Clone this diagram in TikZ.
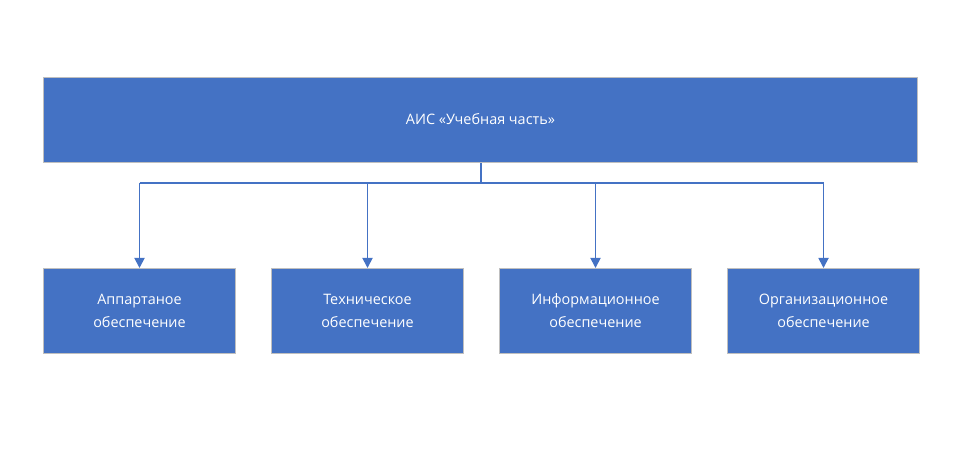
\documentclass[tikz,border=0pt]{standalone}
\usepackage{fontspec}
\setmainfont{Open Sans}
\usetikzlibrary{arrows.meta}
\definecolor{boxblue}{HTML}{4472C4}
\definecolor{boxedge}{HTML}{BFBFBF}
\begin{document}
\begin{tikzpicture}[x=1pt,y=-1pt,
  blk/.style={draw=boxedge,line width=1pt,fill=boxblue,text=white,inner sep=0pt,anchor=north west,
     align=center,font=\fontsize{14.4}{23}\selectfont},
  conn/.style={draw=boxblue,line width=1.8pt},
  arr/.style={conn,-{Triangle[length=10pt,width=10pt]}}]
\useasboundingbox (0,0) rectangle (972,454);
\node[blk,minimum width=874pt,minimum height=85pt] (top) at (43,77) {\raisebox{1.5pt}{АИС «Учебная часть»}};
\node[blk,minimum width=192pt,minimum height=85pt] (b1) at (43,268) {Аппартаное\\обеспечение};
\node[blk,minimum width=192pt,minimum height=85pt] (b2) at (271,268) {Техническое\\обеспечение};
\node[blk,minimum width=192pt,minimum height=85pt] (b3) at (499,268) {Информационное\\обеспечение};
\node[blk,minimum width=192pt,minimum height=85pt] (b4) at (727,268) {Организационное\\обеспечение};
\coordinate (j) at (481,183);
\draw[conn] (top.south -| j) -- (j);
\draw[conn] (j -| b1.north) -- (j -| b4.north);
\foreach \b in {b1,b2,b3,b4}{
  \draw[arr] (j -| \b.north) -- (\b.north);
}
\end{tikzpicture}
\end{document}
